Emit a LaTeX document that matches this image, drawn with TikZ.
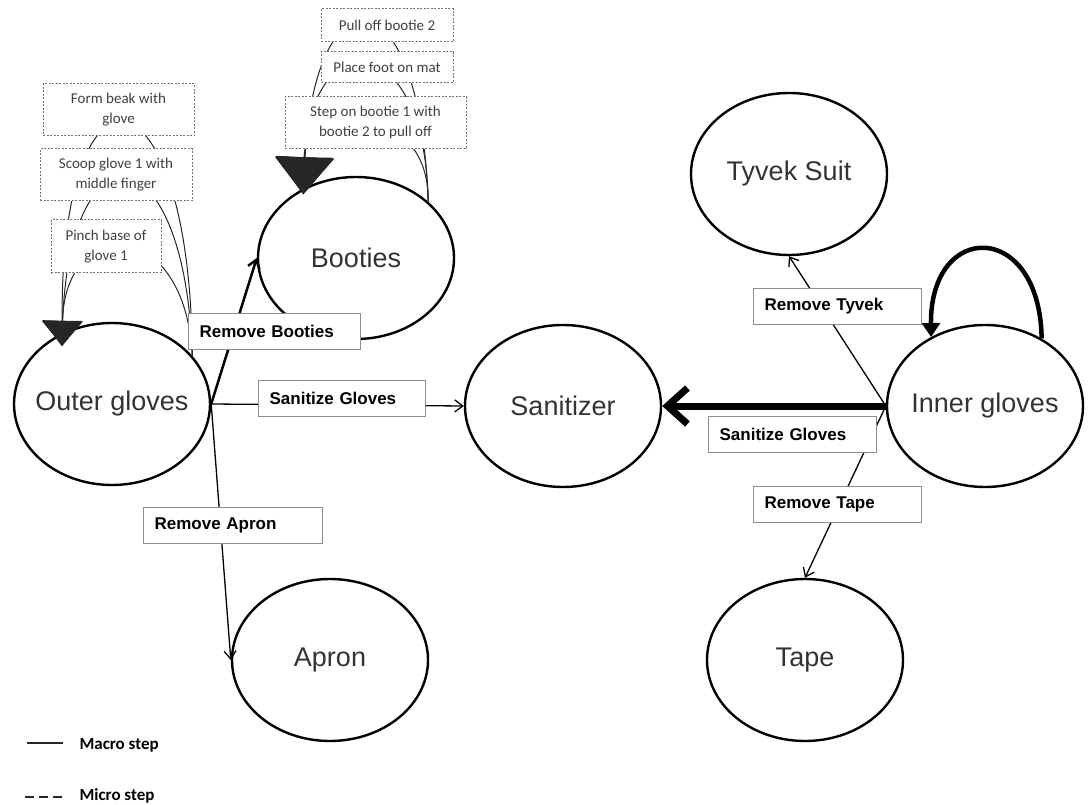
\documentclass[tikz,border=0pt]{standalone}
\usepackage{fontspec}
\setmainfont{Liberation Sans}
\newfontfamily\microfont{Carlito}
\usetikzlibrary{shapes.geometric,arrows.meta}

\begin{document}
\begin{tikzpicture}[x=1pt, y=-1pt, thin,
    main/.style = {draw, ellipse, line width=2.4pt, minimum width=196pt, minimum height=162pt, inner sep=-40pt, text=black!80, font=\fontsize{27}{30}\selectfont},
    lab/.style = {draw=black!45, line width=1.2pt, fill=white, anchor=north west, minimum height=36pt, inner xsep=11pt, align=left, font=\bfseries\fontsize{17}{19}\selectfont},
    micro/.style = {draw=black!55, dash pattern=on 2pt off 1.5pt, line width=1pt, fill=white, align=center, inner sep=0pt, text=black!75, font=\microfont\fontsize{15}{20}\selectfont},
    macroline/.style = {line width=1.3pt, -{Straight Barb[length=8pt,width=12pt]}},
    microline/.style = {line width=1pt, black!85}]
                \useasboundingbox (0,0) rectangle (1090,805);
                % states
                \node[main] (outer) at (112,404) {Outer gloves};
                \node[main] (booties) at (356,258) {Booties};
                \node[main] (sanitizer) at (563,406) {Sanitizer};
                \node[main] (apron) at (330,660) {Apron};
                \node[main] (tyvek) at (789,174) {Tyvek Suit};
                \node[main] (inner) at (985,406) {Inner gloves};
                \node[main] (tape) at (805,660) {Tape};
                % macro steps
                \draw[macroline, line width=2.5pt] (outer.east) -- (booties.west);
                \draw[macroline] (outer.east) -- (sanitizer.west);
                \draw[macroline] (outer.east) -- (apron.west);
                \draw[line width=7pt, -{Straight Barb[length=20pt,width=36pt]}] (inner.west) -- (sanitizer.east);
                \draw[macroline] (inner.west) -- (tyvek.south);
                \draw[macroline] (inner.west) -- (tape.north);
                \draw[line width=4.5pt, -{Triangle[length=14pt,width=18pt]}] (inner.50) .. controls (1040,220) and (930,220) .. (inner.128);
                % micro steps
                \draw[microline, -{Triangle[length=25pt,width=40pt]}, shorten >=-13pt] (outer.31) .. controls (185,215) and (65,215) .. (outer.125.5);
                \draw[microline, -{Triangle[length=25pt,width=40pt]}, shorten >=-13pt] (outer.31) .. controls (185,130) and (70,120) .. (outer.125.5);
                \draw[microline, -{Triangle[length=25pt,width=40pt]}, shorten >=-13pt] (outer.31) .. controls (190,60) and (60,40) .. (outer.125.5);
                \draw[microline, -{Triangle[length=37pt,width=58pt]}, shorten >=-6pt] (booties.38) .. controls (430,100) and (305,100) .. (booties.127.5);
                \draw[microline, -{Triangle[length=37pt,width=58pt]}, shorten >=-6pt] (booties.38) .. controls (425,24) and (310,24) .. (booties.127.5);
                \draw[microline, -{Triangle[length=37pt,width=58pt]}, shorten >=-6pt] (booties.38) .. controls (420,-32) and (315,-32) .. (booties.127.5);
                % labels
                \node[lab, text width=150pt] (lbooties) at (188,313) {Remove Booties};
                \node[lab, text width=145pt] (lsanleft) at (258,380) {Sanitize Gloves};
                \node[lab, text width=157pt] (lapron) at (143,507) {Remove Apron};
                \node[lab, text width=146pt] (ltyvek) at (753,288) {Remove Tyvek};
                \node[lab, text width=146pt] (lsanright) at (708,416) {Sanitize Gloves};
                \node[lab, text width=146pt] (ltape) at (753,486) {Remove Tape};
                \node[micro, minimum width=151pt, minimum height=52pt] (beak) at (118.5,110) {Form beak with\\glove};
                \node[micro, minimum width=152pt, minimum height=52pt] (scoop) at (116,175) {Scoop glove 1 with\\middle finger};
                \node[micro, minimum width=110pt, minimum height=53pt] (pinch) at (106,246.5) {Pinch base of\\glove 1};
                \node[micro, minimum width=132pt, minimum height=33pt] (pull) at (387,25.5) {Pull off bootie 2};
                \node[micro, minimum width=132pt, minimum height=31pt] (place) at (387,67.5) {Place foot on mat};
                \node[micro, minimum width=181pt, minimum height=52pt] (stepon) at (375.5,123) {Step on bootie 1 with\\bootie 2 to pull off};
                % legend
                \draw[line width=2.5pt, black!85] (27,743) -- (63,743);
                \node[anchor=west, font=\microfont\bfseries\fontsize{17}{19}\selectfont] (legmacro) at (76,745) {Macro step};
                \draw[line width=2.5pt, black!85, dash pattern=on 9pt off 5pt] (25,797) -- (63,797);
                \node[anchor=west, font=\microfont\bfseries\fontsize{17}{19}\selectfont] (legmicro) at (76,796) {Micro step};
            \end{tikzpicture}
\end{document}
